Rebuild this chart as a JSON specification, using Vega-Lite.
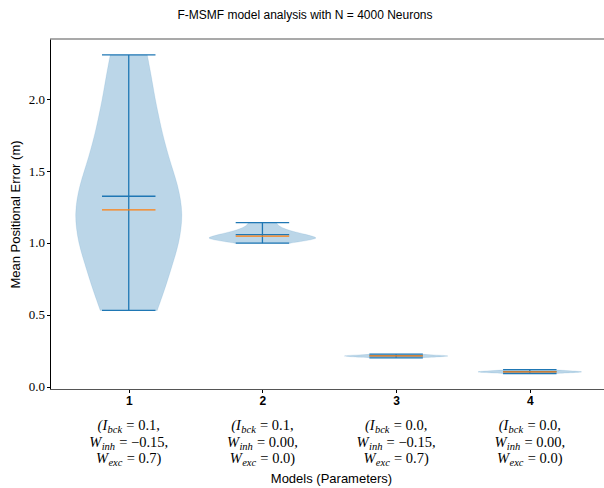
{
  "$schema": "https://vega.github.io/schema/vega-lite/v6.json",
  "width": 554,
  "height": 350,
  "autosize": "none",
  "padding": {"left": 50, "top": 39, "right": 0, "bottom": 99},
  "background": "white",
  "config": {"view": {"stroke": null}, "font": "Liberation Sans"},
  "title": {
    "text": "F-MSMF model analysis with N = 4000 Neurons",
    "font": "Liberation Sans",
    "fontSize": 12,
    "fontWeight": "normal",
    "color": "#000000",
    "anchor": "middle",
    "dx": -22,
    "offset": 16
  },
  "datasets": {
    "density": [
      {"model": 1, "value": 0.531, "density": 0.533},
      {"model": 1, "value": 0.6, "density": 0.598},
      {"model": 1, "value": 0.7, "density": 0.692},
      {"model": 1, "value": 0.8, "density": 0.776},
      {"model": 1, "value": 0.9, "density": 0.86},
      {"model": 1, "value": 1.0, "density": 0.935},
      {"model": 1, "value": 1.1, "density": 0.981},
      {"model": 1, "value": 1.2, "density": 1.0},
      {"model": 1, "value": 1.3, "density": 0.972},
      {"model": 1, "value": 1.4, "density": 0.916},
      {"model": 1, "value": 1.5, "density": 0.832},
      {"model": 1, "value": 1.6, "density": 0.748},
      {"model": 1, "value": 1.7, "density": 0.673},
      {"model": 1, "value": 1.8, "density": 0.607},
      {"model": 1, "value": 1.9, "density": 0.551},
      {"model": 1, "value": 2.0, "density": 0.495},
      {"model": 1, "value": 2.1, "density": 0.449},
      {"model": 1, "value": 2.2, "density": 0.402},
      {"model": 1, "value": 2.307, "density": 0.346},
      {"model": 2, "value": 0.999, "density": 0.523},
      {"model": 2, "value": 1.01, "density": 0.71},
      {"model": 2, "value": 1.02, "density": 0.879},
      {"model": 2, "value": 1.03, "density": 0.991},
      {"model": 2, "value": 1.035, "density": 1.0},
      {"model": 2, "value": 1.04, "density": 0.991},
      {"model": 2, "value": 1.05, "density": 0.907},
      {"model": 2, "value": 1.06, "density": 0.804},
      {"model": 2, "value": 1.07, "density": 0.692},
      {"model": 2, "value": 1.08, "density": 0.579},
      {"model": 2, "value": 1.09, "density": 0.486},
      {"model": 2, "value": 1.1, "density": 0.411},
      {"model": 2, "value": 1.11, "density": 0.355},
      {"model": 2, "value": 1.12, "density": 0.308},
      {"model": 2, "value": 1.13, "density": 0.28},
      {"model": 2, "value": 1.141, "density": 0.262},
      {"model": 3, "value": 0.202, "density": 0.45},
      {"model": 3, "value": 0.206, "density": 0.65},
      {"model": 3, "value": 0.21, "density": 0.88},
      {"model": 3, "value": 0.214, "density": 1.0},
      {"model": 3, "value": 0.218, "density": 0.92},
      {"model": 3, "value": 0.222, "density": 0.7},
      {"model": 3, "value": 0.227, "density": 0.45},
      {"model": 4, "value": 0.092, "density": 0.45},
      {"model": 4, "value": 0.096, "density": 0.65},
      {"model": 4, "value": 0.1, "density": 0.88},
      {"model": 4, "value": 0.104, "density": 1.0},
      {"model": 4, "value": 0.108, "density": 0.92},
      {"model": 4, "value": 0.113, "density": 0.68},
      {"model": 4, "value": 0.12, "density": 0.42}
    ],
    "stats": [
      {"model": 1, "min": 0.531, "max": 2.307, "mean": 1.325, "median": 1.23},
      {"model": 2, "min": 0.999, "max": 1.141, "mean": 1.058, "median": 1.048},
      {"model": 3, "min": 0.202, "max": 0.227, "mean": 0.215, "median": 0.215},
      {"model": 4, "min": 0.092, "max": 0.12, "mean": 0.105, "median": 0.104}
    ],
    "params": [
      {"model": 1, "line": 1, "base": "(I", "sub": "bck", "rest": "= 0.1,"},
      {"model": 1, "line": 2, "base": "W", "sub": "inh", "rest": "= −0.15,"},
      {"model": 1, "line": 3, "base": "W", "sub": "exc", "rest": "= 0.7)"},
      {"model": 2, "line": 1, "base": "(I", "sub": "bck", "rest": "= 0.1,"},
      {"model": 2, "line": 2, "base": "W", "sub": "inh", "rest": "= 0.00,"},
      {"model": 2, "line": 3, "base": "W", "sub": "exc", "rest": "= 0.0)"},
      {"model": 3, "line": 1, "base": "(I", "sub": "bck", "rest": "= 0.0,"},
      {"model": 3, "line": 2, "base": "W", "sub": "inh", "rest": "= −0.15,"},
      {"model": 3, "line": 3, "base": "W", "sub": "exc", "rest": "= 0.7)"},
      {"model": 4, "line": 1, "base": "(I", "sub": "bck", "rest": "= 0.0,"},
      {"model": 4, "line": 2, "base": "W", "sub": "inh", "rest": "= 0.00,"},
      {"model": 4, "line": 3, "base": "W", "sub": "exc", "rest": "= 0.0)"}
    ]
  },
  "layer": [
    {
      "data": {"name": "density"},
      "transform": [
        {"calculate": "datum.model - 0.4 * datum.density", "as": "left"},
        {"calculate": "datum.model + 0.4 * datum.density", "as": "right"}
      ],
      "mark": {"type": "area", "orient": "horizontal", "interpolate": "basis", "color": "#1f77b4", "fillOpacity": 0.3, "stroke": "#1f77b4", "strokeOpacity": 0.15, "strokeWidth": 0.8},
      "encoding": {
        "y": {
          "field": "value",
          "type": "quantitative",
          "scale": {"domain": [-0.015, 2.418], "nice": false, "zero": false},
          "axis": {
            "values": [0, 0.5, 1, 1.5, 2],
            "format": ".1f",
            "grid": false,
            "labelFont": "Liberation Serif",
            "labelFontSize": 13,
            "labelColor": "#000000",
            "labelPadding": 2,
            "tickSize": 3.5,
            "tickColor": "#000000",
            "domainColor": "#000000",
            "domainWidth": 1,
            "title": "Mean Positional Error (m)",
            "titleFont": "Liberation Sans",
            "titleFontSize": 13,
            "titleFontWeight": "normal",
            "titleColor": "#000000",
            "titlePadding": 6
          }
        },
        "x": {
          "field": "left",
          "type": "quantitative",
          "scale": {"domain": [0.411, 4.555], "nice": false, "zero": false},
          "axis": {
            "values": [1, 2, 3, 4],
            "format": "d",
            "grid": false,
            "labelFont": "Liberation Sans",
            "labelFontSize": 12,
            "labelFontWeight": "bold",
            "labelColor": "#000000",
            "labelPadding": 3,
            "tickSize": 3.5,
            "tickColor": "#000000",
            "domainColor": "#555555",
            "domainWidth": 1.1,
            "title": "Models (Parameters)",
            "titleFont": "Liberation Sans",
            "titleFontSize": 13,
            "titleFontWeight": "normal",
            "titleColor": "#000000",
            "titleX": 281,
            "titleY": 93,
            "titleBaseline": "alphabetic"
          }
        },
        "x2": {"field": "right"},
        "detail": {"field": "model"}
      }
    },
    {
      "data": {"name": "stats"},
      "mark": {"type": "rule", "color": "#1f77b4", "strokeWidth": 1.3},
      "encoding": {
        "x": {"field": "model", "type": "quantitative"},
        "y": {"field": "min", "type": "quantitative"},
        "y2": {"field": "max"}
      }
    },
    {
      "data": {"name": "stats"},
      "transform": [
        {"fold": ["min", "max", "mean"], "as": ["stat", "v"]},
        {"calculate": "datum.model - 0.2", "as": "capLeft"},
        {"calculate": "datum.model + 0.2", "as": "capRight"}
      ],
      "mark": {"type": "rule", "color": "#1f77b4", "strokeWidth": 1.3},
      "encoding": {
        "x": {"field": "capLeft", "type": "quantitative"},
        "x2": {"field": "capRight"},
        "y": {"field": "v", "type": "quantitative"}
      }
    },
    {
      "data": {"name": "stats"},
      "transform": [
        {"calculate": "datum.model - 0.2", "as": "capLeft"},
        {"calculate": "datum.model + 0.2", "as": "capRight"}
      ],
      "mark": {"type": "rule", "color": "#ff7f0e", "strokeWidth": 1.3},
      "encoding": {
        "x": {"field": "capLeft", "type": "quantitative"},
        "x2": {"field": "capRight"},
        "y": {"field": "median", "type": "quantitative"}
      }
    },
    {
      "data": {"values": [{}]},
      "mark": {"type": "rule", "color": "#555555", "strokeWidth": 1.1},
      "encoding": {"y": {"datum": 2.418, "type": "quantitative"}}
    },
    {
      "data": {"name": "params"},
      "mark": {
        "type": "text",
        "align": "right",
        "baseline": "alphabetic",
        "font": "Liberation Serif",
        "fontStyle": "italic",
        "fontSize": 14.5,
        "color": "#000000",
        "dx": {"expr": "datum.line == 1 ? -21.5 : datum.line == 3 ? -20.6 : (length(datum.rest) > 7 ? -27.4 : -23.3)"},
        "dy": {"expr": "(datum.line - 1) * 16.6"}
      },
      "encoding": {
        "x": {"field": "model", "type": "quantitative"},
        "y": {"datum": -0.3, "type": "quantitative"},
        "text": {"field": "base"}
      }
    },
    {
      "data": {"name": "params"},
      "mark": {
        "type": "text",
        "align": "left",
        "baseline": "alphabetic",
        "font": "Liberation Serif",
        "fontStyle": "italic",
        "fontSize": 10.5,
        "color": "#000000",
        "dx": {"expr": "datum.line == 1 ? -21.2 : datum.line == 3 ? -20.3 : (length(datum.rest) > 7 ? -27.1 : -23.0)"},
        "dy": {"expr": "(datum.line - 1) * 16.6 + 3"}
      },
      "encoding": {
        "x": {"field": "model", "type": "quantitative"},
        "y": {"datum": -0.3, "type": "quantitative"},
        "text": {"field": "sub"}
      }
    },
    {
      "data": {"name": "params"},
      "mark": {
        "type": "text",
        "align": "left",
        "baseline": "alphabetic",
        "font": "Liberation Serif",
        "fontSize": 14.5,
        "color": "#000000",
        "dx": {"expr": "datum.line == 1 ? -2.4 : datum.line == 3 ? -2.1 : (length(datum.rest) > 7 ? -9.5 : -5.4)"},
        "dy": {"expr": "(datum.line - 1) * 16.6"}
      },
      "encoding": {
        "x": {"field": "model", "type": "quantitative"},
        "y": {"datum": -0.3, "type": "quantitative"},
        "text": {"field": "rest"}
      }
    }
  ]
}
